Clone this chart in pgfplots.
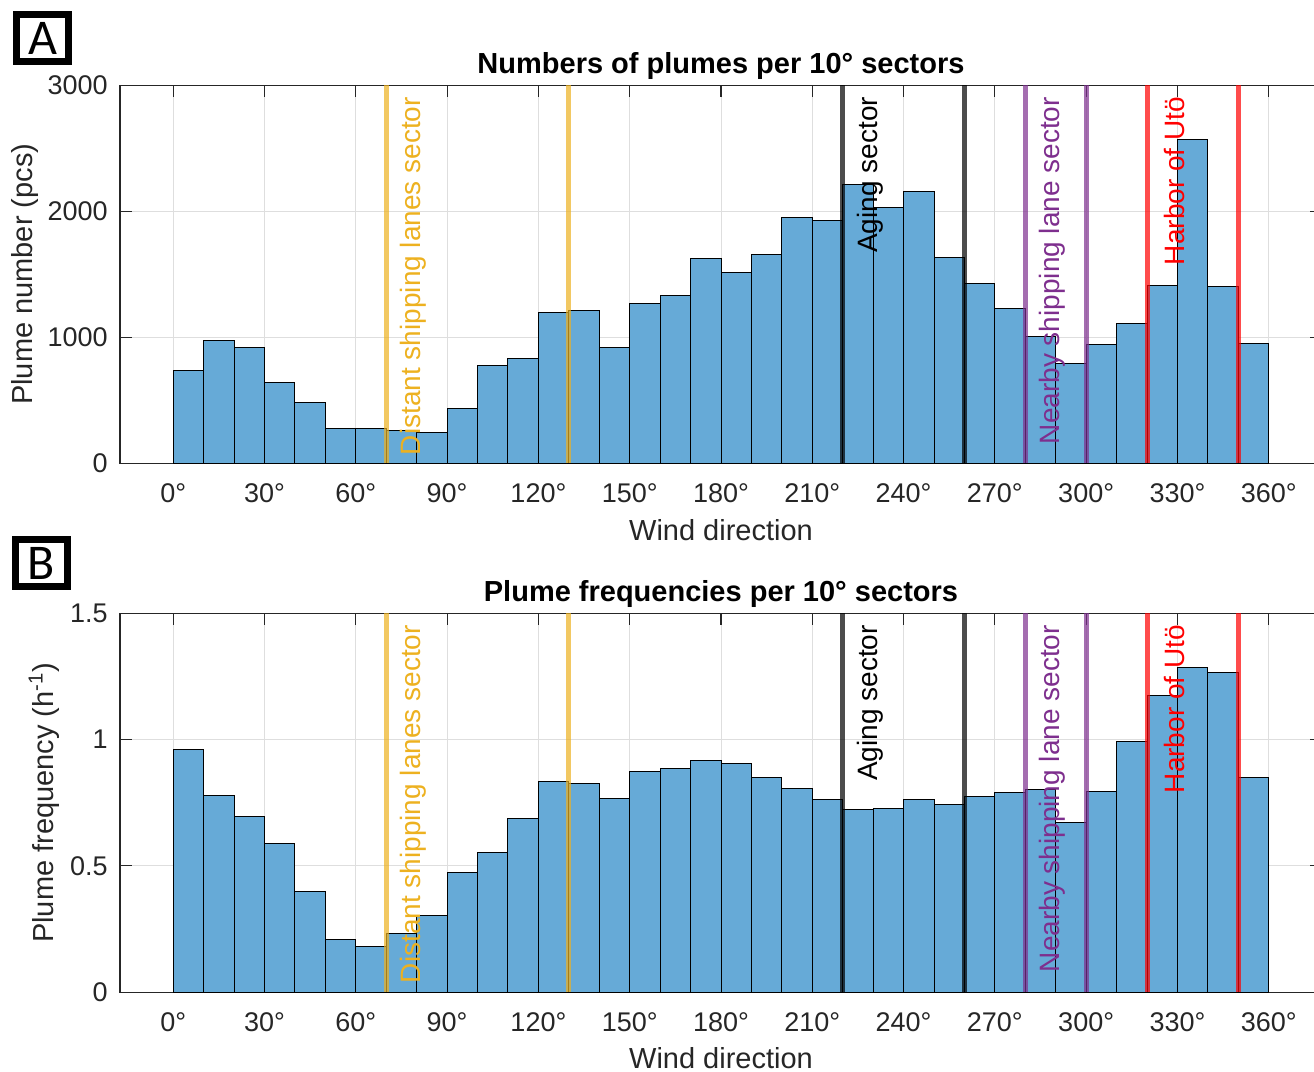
\documentclass[border=0pt]{standalone}
\usepackage{pgfplots}
\pgfplotsset{compat=1.18}
\usepackage{fontspec}
\setmainfont{Liberation Sans}
\newfontfamily\panelfont{Carlito}
\definecolor{barblue}{rgb}{0.4,0.667,0.845}
\definecolor{myyellow}{rgb}{0.929,0.694,0.125}
\definecolor{mypurple}{rgb}{0.494,0.184,0.556}
\definecolor{axgray}{rgb}{0.15,0.15,0.15}
\tikzset{
  sectxt/.style={rotate=90, anchor=east, inner sep=0pt, font=\fontsize{14}{16}\selectfont},
}
\pgfplotsset{
  myaxis/.style={
    scale only axis,
    width=601pt,
    xmin=-17.5, xmax=377.5,
    xtick={0,30,...,360},
    xticklabels={0°,30°,60°,90°,120°,150°,180°,210°,240°,270°,300°,330°,360°},
    grid=major,
    major grid style={color=black!13, line width=0.5pt},
    axis line style={color=axgray, line width=0.6pt},
    major tick length=6pt,
    tick style={color=axgray, line width=0.6pt},
    tick label style={font=\fontsize{13.5}{16}\selectfont, color=axgray},
    /pgf/number format/assume math mode=true,
    /pgf/number format/1000 sep={},
    scaled y ticks=false,
    xticklabel style={anchor=base, yshift=-19.85pt},
    yticklabel style={anchor=east, inner sep=0pt, xshift=-6pt},
    title style={at={(axis description cs:0.5,1)}, anchor=base, yshift=0pt, font=\bfseries\fontsize{14.5}{17}\selectfont},
    xlabel style={at={(axis description cs:0.5,0)}, anchor=base, yshift=-38.4pt, font=\fontsize{14.5}{17}\selectfont, color=axgray},
    ylabel style={anchor=base, font=\fontsize{14.5}{17}\selectfont, color=axgray},
  },
  secline/.style={line width=2.5pt, opacity=0.7, forget plot},
  bars/.style={ybar interval, fill=barblue, draw=black, line width=0.5pt},
}
\begin{document}
\begin{tikzpicture}
% ---------------- Panel A ----------------
\begin{axis}[myaxis,
  at={(60pt,304.35pt)}, anchor=south west,
  height=189pt,
  ymin=0, ymax=3000, ytick={0,1000,2000,3000},
  title={Numbers of plumes per 10° sectors},
  xlabel={Wind direction},
  ylabel={Plume number (pcs)},
  ylabel style={at={(axis description cs:-0.0724,0.5)}},
]
\addplot[bars] coordinates {
(0,740) (10,973) (20,920) (30,640) (40,484) (50,278) (60,278) (70,259) (80,246)
(90,436) (100,775) (110,828) (120,1198) (130,1211) (140,920) (150,1267) (160,1333)
(170,1624) (180,1516) (190,1661) (200,1952) (210,1929) (220,2209) (230,2032)
(240,2160) (250,1637) (260,1423) (270,1225) (280,1010) (290,794) (300,941)
(310,1111) (320,1413) (330,2566) (340,1402) (350,952) (360,952)};
\addplot[secline, color=myyellow] coordinates {(70,0) (70,3000)};
\addplot[secline, color=myyellow] coordinates {(130,0) (130,3000)};
\addplot[secline, color=black] coordinates {(220,0) (220,3000)};
\addplot[secline, color=black] coordinates {(260,0) (260,3000)};
\addplot[secline, color=mypurple] coordinates {(280,0) (280,3000)};
\addplot[secline, color=mypurple] coordinates {(300,0) (300,3000)};
\addplot[secline, color=red] coordinates {(320,0) (320,3000)};
\addplot[secline, color=red] coordinates {(350,0) (350,3000)};
\node[sectxt, text=myyellow] at (axis cs:79,2910) {Distant shipping lanes sector};
\node[sectxt, text=black] at (axis cs:229,2910) {Aging sector};
\node[sectxt, text=mypurple] at (axis cs:289,2910) {Nearby shipping lane sector};
\node[sectxt, text=red] at (axis cs:329,2910) {Harbor of Utö};
\end{axis}
% ---------------- Panel B ----------------
\begin{axis}[myaxis,
  at={(60pt,39.9pt)}, anchor=south west,
  height=189.45pt,
  ymin=0, ymax=1.5, ytick={0,0.5,1,1.5},
  title={Plume frequencies per 10° sectors},
  xlabel={Wind direction},
  ylabel={Plume frequency (h\textsuperscript{-1})},
  ylabel style={at={(axis description cs:-0.0557,0.5)}},
]
\addplot[bars] coordinates {
(0,0.962) (10,0.779) (20,0.694) (30,0.589) (40,0.400) (50,0.209) (60,0.182)
(70,0.234) (80,0.304) (90,0.472) (100,0.554) (110,0.689) (120,0.835) (130,0.825)
(140,0.767) (150,0.872) (160,0.886) (170,0.918) (180,0.907) (190,0.851) (200,0.806)
(210,0.761) (220,0.722) (230,0.727) (240,0.761) (250,0.744) (260,0.773) (270,0.791)
(280,0.801) (290,0.673) (300,0.795) (310,0.991) (320,1.176) (330,1.287) (340,1.267)
(350,0.851) (360,0.851)};
\addplot[secline, color=myyellow] coordinates {(70,0) (70,1.5)};
\addplot[secline, color=myyellow] coordinates {(130,0) (130,1.5)};
\addplot[secline, color=black] coordinates {(220,0) (220,1.5)};
\addplot[secline, color=black] coordinates {(260,0) (260,1.5)};
\addplot[secline, color=mypurple] coordinates {(280,0) (280,1.5)};
\addplot[secline, color=mypurple] coordinates {(300,0) (300,1.5)};
\addplot[secline, color=red] coordinates {(320,0) (320,1.5)};
\addplot[secline, color=red] coordinates {(350,0) (350,1.5)};
\node[sectxt, text=myyellow] at (axis cs:79,1.455) {Distant shipping lanes sector};
\node[sectxt, text=black] at (axis cs:229,1.455) {Aging sector};
\node[sectxt, text=mypurple] at (axis cs:289,1.455) {Nearby shipping lane sector};
\node[sectxt, text=red] at (axis cs:329,1.455) {Harbor of Utö};
\end{axis}
% ---------------- Panel letters ----------------
\draw[line width=3.5pt] (8.25pt,505.25pt) rectangle (34.25pt,528.75pt);
\node[font=\panelfont\fontsize{25}{28}\selectfont, inner sep=0pt] at (21.25pt,517pt) {A};
\draw[line width=3.5pt] (7.75pt,242.75pt) rectangle (33.75pt,266.25pt);
\node[font=\panelfont\fontsize{25}{28}\selectfont, inner sep=0pt] at (20.75pt,254.5pt) {B};
\pgfresetboundingbox
\useasboundingbox (0,0) rectangle (657pt,536pt);
\end{tikzpicture}
\end{document}
